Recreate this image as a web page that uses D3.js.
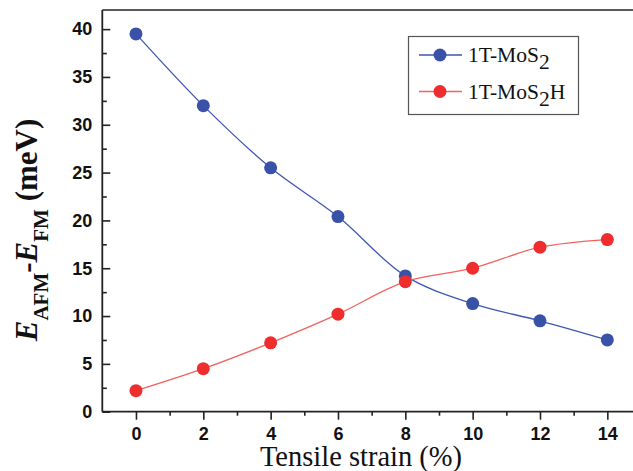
<!DOCTYPE html>
<html><head><meta charset="utf-8">
<script src="https://cdn.jsdelivr.net/npm/d3@7"></script>
<style>body{margin:0;background:#fff}svg{display:block}</style>
</head><body><svg id="c" width="633" height="471"></svg>
<script>
const strain = [0, 2, 4, 6, 8, 10, 12, 14];
const mos2 = [39.5, 32.0, 25.5, 20.4, 14.2, 11.3, 9.5, 7.5];
const mos2h = [2.2, 4.5, 7.2, 10.2, 13.6, 15.0, 17.2, 18.0];
const xTicks = [0, 2, 4, 6, 8, 10, 12, 14];
const yTicks = [0, 5, 10, 15, 20, 25, 30, 35, 40];

const svg = d3.select("#c");
const L = 102.3, R = 641, T = 10, B = 411.7;
const x = d3.scaleLinear().domain([-1, 15]).range([L, R]);
const y = d3.scaleLinear().domain([0, 42]).range([B, T]);

// frame
svg.append("line").attr("x1", L).attr("x2", R).attr("y1", T).attr("y2", T).attr("stroke", "#222").attr("stroke-width", 1.6);
svg.append("line").attr("x1", R).attr("x2", R).attr("y1", T).attr("y2", B).attr("stroke", "#222").attr("stroke-width", 1.6);

// minor ticks
const gx = svg.append("g").attr("transform", `translate(0,${B})`);
gx.call(d3.axisBottom(x).tickValues([1,3,5,7,9,11,13]).tickSize(4).tickFormat(""));
const gy = svg.append("g").attr("transform", `translate(${L},0)`);
gy.call(d3.axisLeft(y).tickValues([2.5,7.5,12.5,17.5,22.5,27.5,32.5,37.5]).tickSize(-4.5).tickFormat(""));
[gx, gy].forEach(g => { g.select(".domain").remove(); g.selectAll("line").attr("stroke", "#222").attr("stroke-width", 1.6); });

// major axes
const ax = svg.append("g").attr("transform", `translate(0,${B})`)
  .call(d3.axisBottom(x).tickValues(xTicks).tickSize(8).tickPadding(8).tickSizeOuter(0));
const ay = svg.append("g").attr("transform", `translate(${L},0)`)
  .call(d3.axisLeft(y).tickValues(yTicks).tickSize(-8).tickPadding(10).tickSizeOuter(0));
[ax, ay].forEach(g => {
  g.select(".domain").attr("stroke", "#222").attr("stroke-width", 1.8);
  g.selectAll(".tick line").attr("stroke", "#222").attr("stroke-width", 1.6);
  g.selectAll(".tick text").attr("fill", "#111").style("font-family", "Liberation Sans, Arial, sans-serif").style("font-weight", "bold").style("font-size", "18px");
});
ax.select(".domain").attr("d", `M${L},0H${R}`);
ay.select(".domain").attr("d", `M0,${B}V${T}`);

// series
const series = [
  {name: "1T-MoS", sub: "2", tail: "", vals: mos2, line: "#3f57b2", dot: "#3951a6"},
  {name: "1T-MoS", sub: "2", tail: "H", vals: mos2h, line: "#f2625e", dot: "#ee2e2e"}
];
const lineGen = d3.line().x((d, i) => x(strain[i])).y(d => y(d)).curve(d3.curveCatmullRom.alpha(0.5));
series.forEach(s => {
  svg.append("path").datum(s.vals).attr("d", lineGen).attr("fill", "none").attr("stroke", s.line).attr("stroke-width", 1.3);
});
series.forEach(s => {
  svg.selectAll(null).data(s.vals).enter().append("circle")
    .attr("cx", (d, i) => x(strain[i])).attr("cy", d => y(d)).attr("r", 6.5).attr("fill", s.dot);
});

// legend
const lg = svg.append("g");
lg.append("rect").attr("x", 408.5).attr("y", 36.5).attr("width", 170).attr("height", 78).attr("fill", "#fff").attr("stroke", "#555").attr("stroke-width", 1.2);
series.forEach((s, i) => {
  const yy = 55 + i * 36.5;
  lg.append("line").attr("x1", 419).attr("x2", 462).attr("y1", yy).attr("y2", yy).attr("stroke", s.line).attr("stroke-width", 1.3);
  lg.append("circle").attr("cx", 440).attr("cy", yy).attr("r", 6.5).attr("fill", s.dot);
  const t = lg.append("text").attr("x", 468).attr("y", yy + 7).style("font-family", "Liberation Serif, Times New Roman, serif").style("font-size", "21.5px").attr("fill", "#111");
  t.append("tspan").text(s.name);
  t.append("tspan").attr("dy", 7).text(s.sub);
  if (s.tail) t.append("tspan").attr("dy", -7).text(s.tail);
});

// axis titles
svg.append("text").attr("x", 361).attr("y", 466).attr("text-anchor", "middle")
  .style("font-family", "Liberation Serif, Times New Roman, serif").style("font-size", "28.5px").attr("fill", "#111")
  .text("Tensile strain (%)");

const yt = svg.append("text").attr("transform", "translate(37,230) rotate(-90)").attr("text-anchor", "middle")
  .style("font-family", "Liberation Serif, Times New Roman, serif").style("font-weight", "bold").style("font-size", "31px").attr("fill", "#111");
yt.append("tspan").style("font-style", "italic").text("E");
yt.append("tspan").attr("dy", 11).style("font-size", "21px").text("AFM");
yt.append("tspan").attr("dy", -11).text("-");
yt.append("tspan").style("font-style", "italic").text("E");
yt.append("tspan").attr("dy", 11).style("font-size", "21px").text("FM");
yt.append("tspan").attr("dy", -11).text(" (meV)");
</script></body></html>
